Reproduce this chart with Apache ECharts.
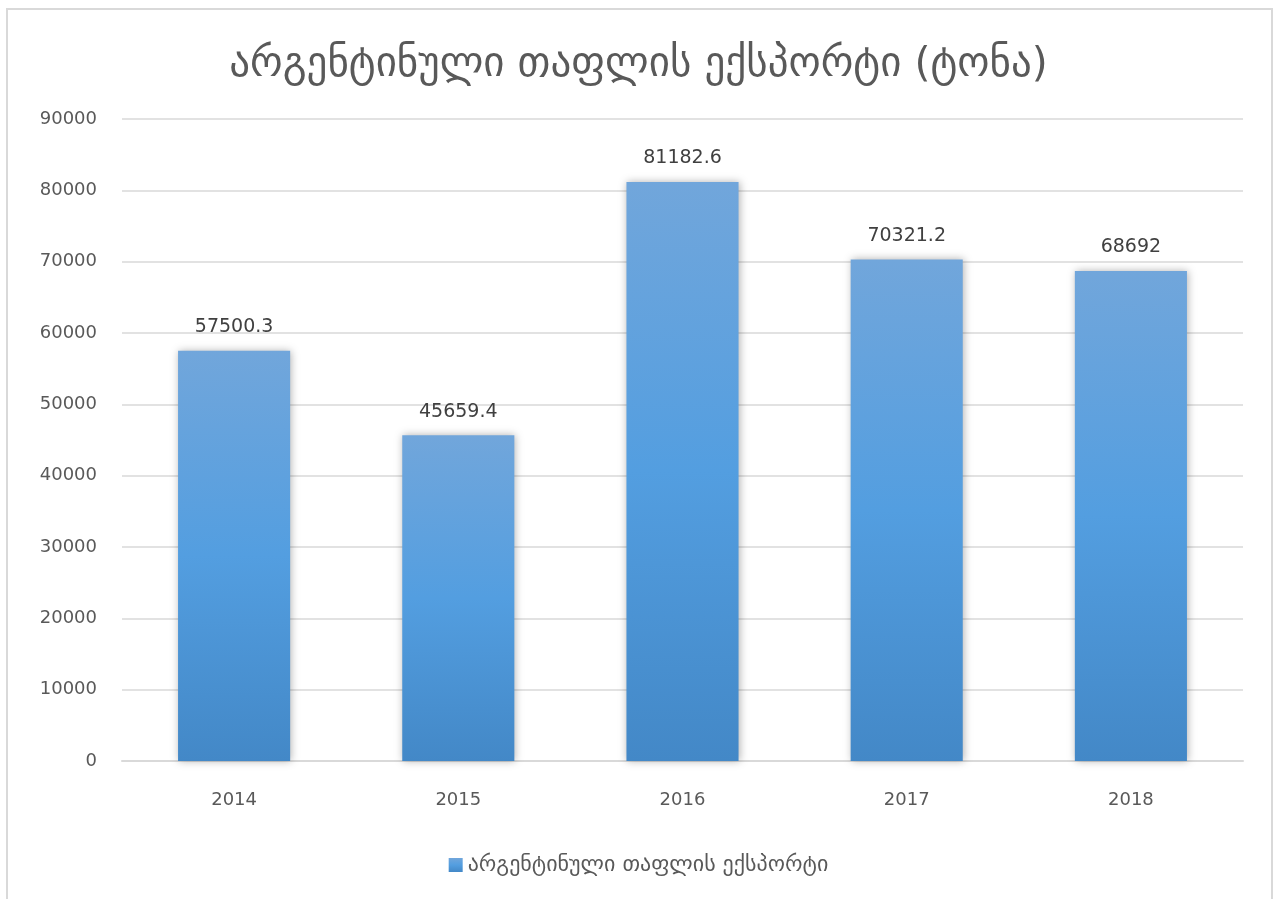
<!DOCTYPE html>
<html><head><meta charset="utf-8">
<script src="https://cdn.jsdelivr.net/npm/echarts@6/dist/echarts.min.js"></script>
<style>html,body{margin:0;padding:0;background:#fff}#c{width:1277px;height:899px}</style>
</head><body><div id="c"></div>
<script>
const categories = ['2014','2015','2016','2017','2018'];
const values = [57500.3, 45659.4, 81182.6, 70321.2, 68692];
const titleText = 'არგენტინული თაფლის ექსპორტი (ტონა)';
const seriesName = 'არგენტინული თაფლის ექსპორტი';
const FONT = '"DejaVu Sans", sans-serif';
const chart = echarts.init(document.getElementById('c'));
chart.setOption({
  animation: false,
  backgroundColor: '#fff',
  graphic: [{type:'rect', silent:true, z:-1, shape:{x:7,y:9,width:1265,height:1000}, style:{fill:'none', stroke:'#d9d9d9', lineWidth:2}}],
  title: {text: titleText, left: 'center', top: 40, textStyle:{fontFamily:FONT, fontSize:41, fontWeight:'normal', color:'#595959'}},
  legend: {bottom: 18, left:'center', itemWidth:14, itemHeight:14, itemGap:6, icon:'rect', textStyle:{fontFamily:FONT, fontSize:22, color:'#595959'}},
  grid: {left:122, right:34, top:119, bottom:138, containLabel:false},
  xAxis: {type:'category', data: categories, axisTick:{show:false}, axisLine:{lineStyle:{color:'#d9d9d9', width:2}},
    axisLabel:{fontFamily:FONT, fontSize:18, color:'#595959', margin:30}},
  yAxis: {type:'value', min:0, max:90000, interval:10000, axisLine:{show:false}, axisTick:{show:false},
    splitLine:{lineStyle:{color:'#d9d9d9', width:1.5}}, axisLabel:{fontFamily:FONT, fontSize:18, color:'#595959', margin:25, formatter: v => String(v)}},
  series: [{
    name: seriesName, type:'bar', data: values, barWidth:'50%',
    itemStyle:{color: new echarts.graphic.LinearGradient(0,0,0,1,[{offset:0,color:'#71a6db'},{offset:0.5,color:'#539ee0'},{offset:1,color:'#4388c7'}]),
      shadowBlur:8, shadowColor:'rgba(0,0,0,0.3)', shadowOffsetX:1, shadowOffsetY:0},
    label:{show:true, position:'top', distance:14, fontFamily:FONT, fontSize:19, color:'#404040'}
  }]
});
</script></body></html>
